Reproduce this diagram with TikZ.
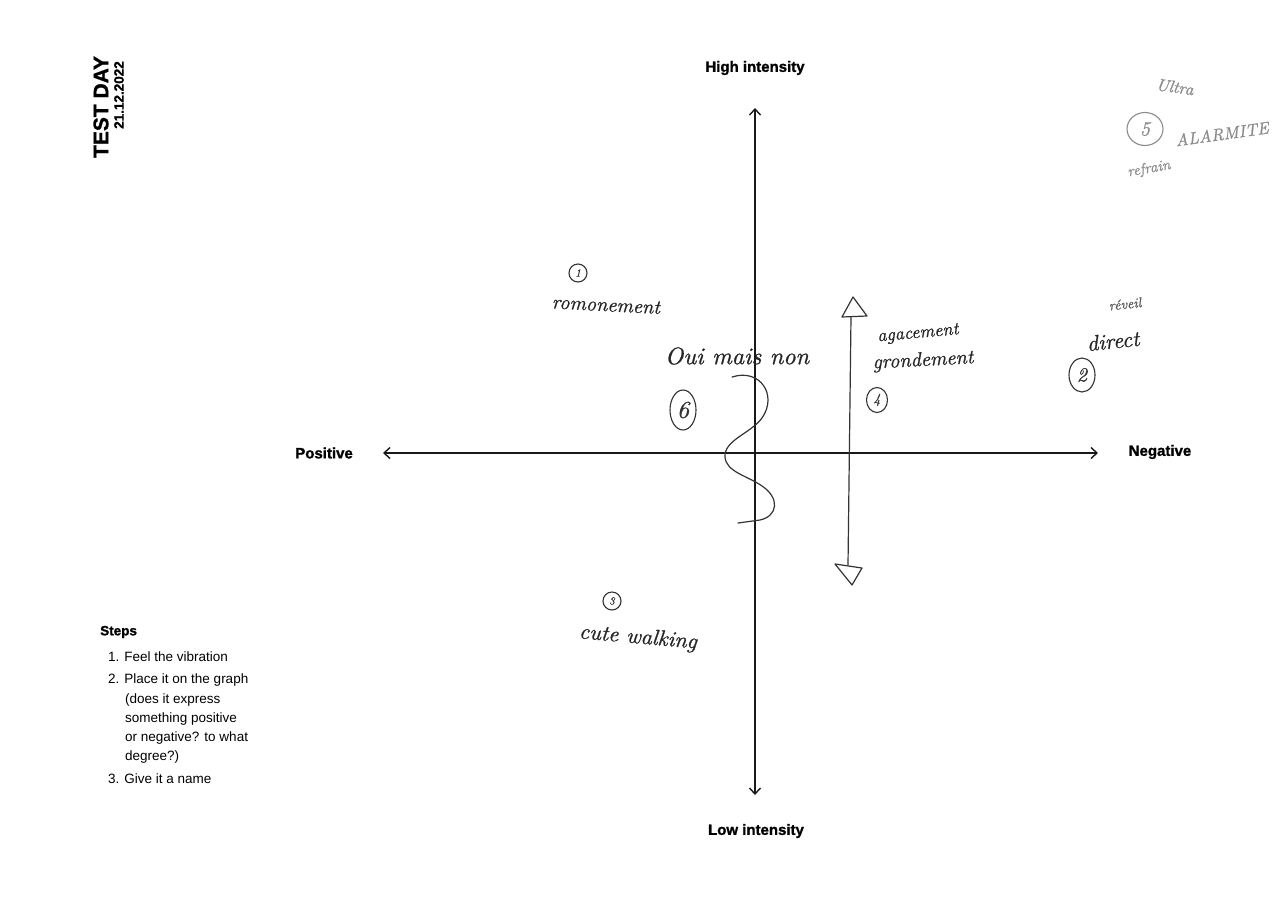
\documentclass[tikz,border=0pt]{standalone}
\usepackage{fontspec}
\newfontfamily\pf{Liberation Sans}[BoldFeatures={FakeBold=1.3}]
\newfontfamily\hf{lmroman10-italic}[Extension=.otf, FakeBold=0.8]
\usetikzlibrary{arrows.meta,shapes.geometric}
\tikzset{
  axisline/.style={line width=1.4pt, draw=black!90,
    arrows={Straight Barb[length=6pt,width=11pt,line width=1.4pt]-Straight Barb[length=6pt,width=11pt,line width=1.4pt]}},
  lbl/.style={font=\pf\bfseries\fontsize{15}{18}\selectfont, inner sep=1pt},
  steptxt/.style={font=\pf\fontsize{13.5}{16}\selectfont, anchor=west, inner sep=0pt},
  hand/.style={font=\hf\fontsize{20}{22}\selectfont, text=black!85, inner sep=1pt},
  fainttext/.style={text=black!45},
  faintline/.style={draw=black!45, text=black!45},
  pen/.style={draw=black!80, line width=1.2pt, line join=round, line cap=round},
  num/.style={ellipse, draw=black!80, line width=1.1pt, inner sep=0pt, text=black!80,
    font=\hf\fontsize{11}{12}\selectfont, minimum width=18pt, minimum height=18pt},
}
\begin{document}
\begin{tikzpicture}[x=1pt,y=-1pt]
\useasboundingbox (0,0) rectangle (1280,900);
\fill[white] (0,0) rectangle (1280,900);

% title
\node[rotate=90, font=\pf\bfseries\fontsize{21}{24}\selectfont, inner sep=0pt] (title) at (101,107) {TEST DAY};
\node[rotate=90, font=\pf\bfseries\fontsize{13.5}{16}\selectfont, inner sep=0pt] (date) at (119,95) {21.12.2022};

% axes
\coordinate (ytop) at (755,108);
\coordinate (ybot) at (755,795);
\coordinate (xl) at (383,453);
\coordinate (xr) at (1098,453);
\draw[axisline] (ybot) -- (ytop);
\draw[axisline] (xl) -- (xr);

\node[lbl] (high) at (755,68) {High intensity};
\node[lbl] (low) at (756,831) {Low intensity};
\node[lbl, anchor=east] (pos) at (354,453) {Positive};
\node[lbl] (neg) at (1160,452) {Negative};

% steps
\node[steptxt, font=\pf\bfseries\fontsize{13.5}{16}\selectfont] (s0) at (100,632) {Steps};
\node[steptxt] (s1) at (108,657) {1. Feel the vibration};
\node[steptxt] (s2) at (108,680) {2. Place it on the graph};
\node[steptxt] (s3) at (125,700) {(does it express};
\node[steptxt] (s4) at (125,719) {something positive};
\node[steptxt] (s5) at (125,738) {or negative? to what};
\node[steptxt] (s6) at (125,757) {degree?)};
\node[steptxt] (s7) at (108,779) {3. Give it a name};

% handwritten 1
\node[num] (n1) at (578,273) {1};
\node[hand, rotate=-3] (t1) at (606,305) {romonement};

% handwritten 6
\node[hand, font=\hf\fontsize{24}{26}\selectfont] (t6) at (737,356) {Oui mais non};
\node[num, minimum width=26pt, minimum height=40pt, font=\hf\fontsize{24}{26}\selectfont] (n6) at (683,410) {6};
\draw[pen] (732,377) .. controls (760,368) and (778,395) .. (762,418)
  .. controls (750,434) and (724,440) .. (725,457)
  .. controls (726,472) and (748,476) .. (762,486)
  .. controls (780,498) and (778,516) .. (760,520) -- (738,523);

% handwritten 4
\coordinate (a4top) at (851,317);
\coordinate (a4bot) at (848,565);
\draw[pen] (a4top) -- (a4bot);
\draw[pen] (853,297) -- (842,317) -- (867,316) -- cycle;
\draw[pen] (835,564) -- (862,568) -- (852,585) -- cycle;
\node[hand, font=\hf\fontsize{18}{20}\selectfont, rotate=5] (t4a) at (918,334) {agacement};
\node[hand, rotate=3] (t4b) at (923,361) {grondement};
\node[num, minimum width=21pt, minimum height=25pt, font=\hf\fontsize{14}{16}\selectfont] (n4) at (877,400) {4};

% handwritten 2
\node[hand, font=\hf\fontsize{14}{16}\selectfont, text=black!65, rotate=6] (t2a) at (1125,304) {réveil};
\node[hand, font=\hf\fontsize{22}{24}\selectfont, rotate=6] (t2b) at (1113,341) {direct};
\node[num, minimum width=26pt, minimum height=34pt, font=\hf\fontsize{20}{22}\selectfont] (n2) at (1082,375) {2};

% handwritten 5 (faint)
\node[hand, fainttext, font=\hf\fontsize{17}{19}\selectfont, rotate=-8] (t5a) at (1175,87) {Ultra};
\node[num, faintline, minimum width=36pt, minimum height=33pt, font=\hf\fontsize{20}{22}\selectfont] (n5) at (1145,129) {5};
\node[hand, fainttext, font=\hf\fontsize{17}{19}\selectfont, rotate=8] (t5b) at (1222,134) {ALARMITE};
\node[hand, fainttext, font=\hf\fontsize{15}{17}\selectfont, rotate=10] (t5c) at (1149,169) {refrain};

% handwritten 3
\node[num] (n3) at (612,601) {3};
\node[hand, font=\hf\fontsize{22}{24}\selectfont, rotate=-5] (t3) at (638,638) {cute walking};
\end{tikzpicture}
\end{document}
